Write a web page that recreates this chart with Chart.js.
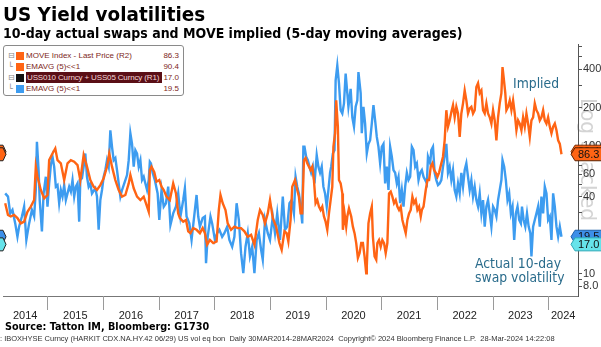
<!DOCTYPE html>
<html>
<head>
<meta charset="utf-8">
<script src="https://cdn.jsdelivr.net/npm/chart.js@4.4.1/dist/chart.umd.min.js"></script>
<style>
  body { margin: 0; width: 601px; height: 347px; overflow: hidden; background: #fff; position: relative; font-family: 'DejaVu Sans', sans-serif; }
  #c { position: absolute; left: 0; top: 0; }
  .sq { position: absolute; white-space: nowrap; transform-origin: left top; }
  #title { left: 3px; top: 4px; font: bold 20px/20px 'DejaVu Sans'; transform: scaleX(0.92); color: #000; }
  #subtitle { left: 3px; top: 25.5px; font: bold 13.7px/14px 'DejaVu Sans'; transform: scaleX(0.92); color: #000; }
  #legend { position: absolute; left: 3px; top: 45px; width: 179px; height: 49px; border: 1px solid #8a8a8a; border-radius: 3px; background: #fff; font: 8px/11px 'Liberation Sans', sans-serif; color: #7d1f22; z-index: 2; }
  #legend .row { position: absolute; left: 0; width: 179px; height: 11px; white-space: nowrap; }
  #legend .tree { position: absolute; left: 4px; top: 0; color: #888; font: 8px/11px 'DejaVu Sans'; }
  #legend .sw { position: absolute; left: 12px; top: 1.5px; width: 8px; height: 8px; }
  #legend .lab { position: absolute; left: 22px; top: 0; white-space: nowrap; }
  #legend .hl { background: #5a0f16; color: #f4d6d6; width: 135px; padding-left: 1px; letter-spacing: -0.15px; overflow: hidden; }
  #legend .val { position: absolute; right: 4px; top: 0; }
  .note { color: #2a6c8c; font: 13.5px/14px 'DejaVu Sans'; transform: scaleX(0.92); z-index: 2; }
  #source { left: 5px; top: 320px; font: bold 10.5px/12px 'DejaVu Sans'; transform: scaleX(0.92); color: #000; }
  #footer { left: 0px; top: 334px; font: 7.5px/9px 'Liberation Sans', sans-serif; color: #333; }
</style>
</head>
<body>
<canvas id="c" width="601" height="330"></canvas>
<div id="title" class="sq">US Yield volatilities</div>
<div id="subtitle" class="sq">10-day actual swaps and MOVE implied (5-day moving averages)</div>
<div id="legend">
  <div class="row" style="top:4px"><span class="tree">⊟</span><span class="sw" style="background:#ff6414"></span><span class="lab">MOVE Index - Last Price (R2)</span><span class="val">86.3</span></div>
  <div class="row" style="top:15px"><span class="tree">└</span><span class="sw" style="background:#ff6414"></span><span class="lab">EMAVG (5)&lt;&lt;1</span><span class="val">90.4</span></div>
  <div class="row" style="top:26px"><span class="tree">⊟</span><span class="sw" style="background:#111"></span><span class="lab hl">USS010 Curncy + USS05 Curncy (R1)</span><span class="val">17.0</span></div>
  <div class="row" style="top:37px"><span class="tree">└</span><span class="sw" style="background:#3d9cf0"></span><span class="lab">EMAVG (5)&lt;&lt;1</span><span class="val">19.5</span></div>
</div>
<div class="sq note" style="left:513px; top:75.5px">Implied</div>
<div class="sq note" style="left:475px; top:255.5px">Actual 10-day<br>swap volatility</div>
<div id="source" class="sq">Source: Tatton IM, Bloomberg: G1730</div>
<div id="footer" class="sq">: IBOXHYSE Curncy (HARKIT CDX.NA.HY.42 06/29) US vol eq bon&nbsp; Daily 30MAR2014-28MAR2024&nbsp; Copyright© 2024 Bloomberg Finance L.P.&nbsp; 28-Mar-2024 14:22:08</div>
<script>
// MOVE implied (orange), dates as decimal years
const moveDates = [2014.24,2014.29,2014.34,2014.40,2014.46,2014.52,2014.58,2014.64,2014.70,2014.76,2014.79,2014.82,2014.88,2014.94,
  2015.00,2015.03,2015.09,2015.14,2015.18,2015.24,2015.30,2015.36,2015.42,2015.48,2015.54,2015.59,2015.65,2015.71,2015.77,2015.83,2015.89,2015.95,
  2016.01,2016.07,2016.11,2016.16,2016.22,2016.28,2016.34,2016.40,2016.46,2016.49,2016.55,2016.61,2016.67,2016.73,2016.79,2016.82,2016.84,2016.87,2016.92,2016.96,
  2017.01,2017.05,2017.09,2017.14,2017.20,2017.26,2017.31,2017.35,2017.38,2017.44,2017.49,2017.53,2017.57,2017.62,2017.68,2017.74,2017.79,2017.83,2017.87,2017.92,2017.98,
  2018.04,2018.08,2018.11,2018.15,2018.20,2018.24,2018.30,2018.36,2018.42,2018.48,2018.54,2018.60,2018.66,2018.72,2018.78,2018.82,2018.87,2018.91,2018.96,
  2019.00,2019.05,2019.11,2019.17,2019.21,2019.26,2019.30,2019.33,2019.37,2019.40,2019.45,2019.49,2019.52,2019.55,2019.58,2019.61,2019.64,2019.67,2019.70,2019.73,2019.76,2019.79,2019.82,2019.85,2019.88,2019.91,2019.94,2019.97,
  2020.00,2020.03,2020.06,2020.09,2020.12,2020.14,2020.17,2020.19,2020.22,2020.24,2020.27,2020.30,2020.31,2020.34,2020.37,2020.39,2020.42,2020.46,2020.49,2020.52,2020.55,2020.58,2020.61,2020.64,2020.67,2020.70,2020.73,2020.74,2020.77,2020.80,2020.83,2020.85,2020.88,2020.91,2020.93,2020.96,2020.99,
  2021.02,2021.05,2021.08,2021.11,2021.14,2021.17,2021.20,2021.23,2021.26,2021.29,2021.32,2021.35,2021.38,2021.41,2021.44,2021.47,2021.50,2021.53,2021.56,2021.59,2021.62,2021.65,2021.68,2021.71,2021.73,2021.76,2021.80,2021.83,2021.86,2021.89,2021.92,2021.95,2021.98,
  2022.01,2022.04,2022.08,2022.11,2022.14,2022.17,2022.20,2022.23,2022.26,2022.29,2022.32,2022.35,2022.38,2022.41,2022.44,2022.47,2022.50,2022.53,2022.56,2022.59,2022.62,2022.65,2022.68,2022.71,2022.74,2022.77,2022.80,2022.83,2022.86,2022.89,2022.92,2022.95,2022.98,
  2023.01,2023.04,2023.07,2023.10,2023.13,2023.16,2023.18,2023.20,2023.23,2023.25,2023.28,2023.31,2023.34,2023.37,2023.40,2023.43,2023.46,2023.49,2023.52,2023.55,2023.58,2023.61,2023.64,2023.67,2023.70,2023.73,2023.76,2023.79,2023.82,2023.85,2023.88,2023.91,2023.94,2023.97,
  2024.00,2024.03,2024.06,2024.09,2024.12,2024.15,2024.18,2024.21,2024.24];
const moveValues = [35.7,28.9,28.1,28.9,27.3,24.8,25.6,30.6,33.6,37.8,69.0,57.5,45.3,39.0,
  41.4,77.6,87.5,95.8,77.6,73.2,54.2,73.2,77.6,75.4,71.0,54.2,84.9,69.0,54.2,48.1,45.3,49.5,
  56.0,69.0,87.5,69.0,54.2,45.3,40.2,41.4,51.0,59.3,46.7,40.2,37.8,40.2,33.6,30.6,64.9,69.0,62.5,52.6,
  54.2,48.1,45.3,40.2,37.8,51.0,42.6,29.7,27.3,25.6,26.4,21.5,20.8,22.8,22.1,20.8,22.8,20.8,16.9,18.4,17.4,
  17.9,31.6,41.4,35.7,31.6,24.8,22.1,23.4,22.8,22.8,21.5,19.5,20.2,16.9,26.4,31.6,28.9,24.8,29.7,
  37.8,27.3,23.4,17.4,15.4,21.5,20.8,17.9,26.4,48.1,54.2,45.3,40.2,29.7,29.7,77.6,80.6,73.2,69.0,64.9,69.0,54.2,35.7,37.8,33.6,31.6,33.6,28.1,
  25.6,22.1,29.7,37.8,48.1,98.7,126,228,142,54.2,51.0,42.6,22.1,29.7,23.4,28.1,32.5,28.1,23.4,20.8,17.4,13.3,14.5,17.4,17.4,13.7,10.1,11.4,24.8,29.7,33.6,19.5,13.7,12.9,17.4,18.4,16.3,
  18.4,17.4,14.5,17.4,42.6,44.0,40.2,35.7,37.8,33.6,31.6,33.6,26.4,23.4,20.8,26.4,29.7,31.6,40.2,35.7,37.8,31.6,33.6,28.1,31.6,33.6,45.3,54.2,54.2,69.0,73.2,64.9,61.8,
  57.5,62.0,73.2,82.6,111,191,142,159,185,209,168,203,180,118,180,216,273,228,180,197,203,180,191,290,311,260,273,191,180,216,180,168,150,
  191,159,111,168,216,260,416,346,260,191,203,228,191,228,180,133,159,150,133,168,142,180,150,118,159,168,216,191,180,159,168,191,159,150,
  168,142,126,142,150,133,111,104,86.3];

// USS010 + USS05 actual 10-day swap volatility (blue)
const swapDates = [2014.24,2014.29,2014.33,2014.37,2014.42,2014.46,2014.49,2014.54,2014.58,2014.62,2014.67,2014.72,2014.76,2014.79,2014.81,2014.84,2014.86,2014.90,2014.93,2014.97,
  2015.00,2015.03,2015.06,2015.09,2015.12,2015.15,2015.18,2015.21,2015.24,2015.27,2015.30,2015.33,2015.36,2015.39,2015.42,2015.45,2015.48,2015.51,2015.54,2015.57,2015.59,2015.62,2015.65,2015.68,2015.71,2015.74,2015.77,2015.80,2015.86,2015.89,2015.92,2015.95,2015.98,
  2016.01,2016.04,2016.07,2016.10,2016.13,2016.16,2016.19,2016.22,2016.25,2016.28,2016.31,2016.34,2016.37,2016.40,2016.43,2016.46,2016.49,2016.52,2016.55,2016.58,2016.61,2016.64,2016.67,2016.70,2016.73,2016.76,2016.79,2016.82,2016.84,2016.86,2016.89,2016.93,2016.98,
  2017.01,2017.05,2017.09,2017.13,2017.17,2017.21,2017.26,2017.31,2017.35,2017.39,2017.44,2017.47,2017.50,2017.55,2017.59,2017.63,2017.68,2017.71,2017.74,2017.79,2017.83,2017.85,2017.88,2017.93,2017.96,
  2018.01,2018.05,2018.09,2018.14,2018.18,2018.23,2018.27,2018.32,2018.36,2018.40,2018.44,2018.48,2018.52,2018.56,2018.60,2018.64,2018.68,2018.72,2018.76,2018.80,2018.84,2018.87,2018.91,2018.96,
  2019.00,2019.05,2019.09,2019.13,2019.18,2019.23,2019.27,2019.31,2019.35,2019.39,2019.43,2019.46,2019.49,2019.52,2019.55,2019.58,2019.60,2019.62,2019.65,2019.68,2019.71,2019.74,2019.77,2019.80,2019.84,2019.87,2019.90,2019.93,2019.96,2019.99,
  2020.02,2020.05,2020.08,2020.10,2020.13,2020.16,2020.18,2020.21,2020.24,2020.27,2020.30,2020.33,2020.36,2020.39,2020.41,2020.45,2020.48,2020.51,2020.54,2020.57,2020.59,2020.63,2020.65,2020.68,2020.71,2020.74,2020.77,2020.80,2020.83,2020.86,2020.89,2020.92,2020.95,2020.98,
  2021.01,2021.04,2021.07,2021.10,2021.13,2021.16,2021.19,2021.22,2021.25,2021.28,2021.31,2021.34,2021.37,2021.40,2021.43,2021.46,2021.49,2021.52,2021.55,2021.58,2021.61,2021.64,2021.67,2021.70,2021.73,2021.76,2021.79,2021.82,2021.84,2021.88,2021.90,2021.93,2021.96,2021.99,
  2022.02,2022.05,2022.08,2022.11,2022.14,2022.17,2022.20,2022.23,2022.26,2022.29,2022.32,2022.35,2022.38,2022.41,2022.44,2022.47,2022.50,2022.53,2022.56,2022.59,2022.62,2022.65,2022.68,2022.71,2022.74,2022.77,2022.80,2022.83,2022.86,2022.89,2022.92,2022.95,2022.98,
  2023.01,2023.04,2023.07,2023.10,2023.13,2023.16,2023.18,2023.21,2023.24,2023.27,2023.30,2023.33,2023.36,2023.39,2023.42,2023.45,2023.48,2023.51,2023.53,2023.56,2023.59,2023.62,2023.65,2023.68,2023.70,2023.73,2023.76,2023.79,2023.82,2023.85,2023.88,2023.91,2023.94,2023.97,
  2024.00,2024.03,2024.06,2024.09,2024.12,2024.15,2024.18,2024.21,2024.24];
const swapValues = [42.6,40.2,29.7,31.6,24.8,19.5,23.4,28.1,33.6,18.4,24.8,31.6,28.1,45.3,108,64.9,37.8,21.5,42.6,57.5,
  33.6,51.0,71.0,82.6,69.0,48.1,49.5,35.7,45.3,40.2,49.5,37.8,42.6,48.1,44.0,54.2,40.2,48.1,51.0,25.6,54.2,56.0,69.0,87.5,57.5,48.1,51.0,42.6,46.7,40.2,22.1,37.8,45.3,
  57.5,64.9,77.6,69.0,133,98.7,77.6,80.6,64.9,51.0,40.2,45.3,49.5,54.2,59.3,77.6,126,104,69.0,92.9,87.5,69.0,77.6,54.2,57.5,51.0,45.3,54.2,75.4,73.2,61.8,54.2,42.6,
  26.4,45.3,33.6,35.7,48.1,24.1,29.7,33.6,42.6,28.1,37.8,46.7,28.1,24.8,18.4,26.4,41.4,28.1,23.4,27.3,28.1,12.1,19.5,28.1,24.8,
  18.4,20.8,22.1,19.5,20.8,23.4,18.4,16.3,19.5,35.7,26.4,14.5,10.1,16.3,20.8,13.7,16.3,10.1,18.4,20.8,15.4,12.9,26.4,20.8,
  18.4,28.1,20.8,29.7,18.4,40.2,22.1,23.4,35.7,37.8,29.7,57.5,48.1,42.6,33.6,24.8,98.7,98.7,82.6,77.6,69.0,61.8,69.0,51.0,84.9,69.0,61.8,69.0,48.1,42.6,
  33.6,45.3,61.8,69.0,87.5,92.9,327,428,311,191,180,216,369,260,203,281,168,142,203,228,380,260,126,203,150,87.5,104,111,150,209,159,118,98.7,73.2,
  98.7,104,51.0,69.0,45.3,98.7,82.6,64.9,61.8,51.0,57.5,35.7,45.3,33.6,48.1,61.8,54.2,57.5,98.7,92.9,69.0,73.2,54.2,61.8,64.9,57.5,54.2,51.0,82.6,73.2,92.9,98.7,61.8,54.2,
  49.5,51.0,54.2,69.0,82.6,104,61.8,69.0,54.2,64.9,45.3,40.2,51.0,42.6,61.8,48.1,64.9,73.2,57.5,45.3,54.2,40.2,48.1,37.8,33.6,42.6,29.7,37.8,23.4,33.6,37.8,29.7,23.4,
  33.6,31.6,28.1,37.8,45.3,54.2,77.6,69.0,54.2,37.8,42.6,29.7,33.6,18.4,29.7,33.6,26.4,24.8,33.6,26.4,23.4,29.7,23.4,20.8,13.7,23.4,26.4,29.7,33.6,23.4,40.2,29.7,48.1,42.6,
  26.4,28.1,18.4,42.6,33.6,23.4,19.5,23.4,19.5];

const yearLabels = ['2014','2015','2016','2017','2018','2019','2020','2021','2022','2023','2024'];
const yearCenters = [2014.6,2015.5,2016.5,2017.5,2018.5,2019.5,2020.5,2021.5,2022.5,2023.5,2024.27];
const yearBreaks = [2015,2016,2017,2018,2019,2020,2021,2022,2023,2024];
const yTickValues = [8,9,10,20,30,40,50,60,70,80,90,100,200,300,400,500,600];
const yTickText = { 8: '8.0', 10: '10', 40: '40', 60: '60', 100: '100', 200: '200', 400: '400' };

// last values shown as tags on the axis
const lastTags = [
  { value: 90.4, text: '90.4', fill: '#ff6414', stroke: '#7a2a00' },
  { value: 86.3, text: '86.3', fill: '#ff6414', stroke: '#5a2000' },
  { value: 19.5, text: '19.5', fill: '#3d8fe8', stroke: '#1d5fa8' },
  { value: 17.0, text: '17.0', fill: '#66e3ea', stroke: '#2aa8b8' }
];

const narrow = "'Liberation Sans Narrow', 'Liberation Sans', sans-serif";

const decor = {
  id: 'decor',
  beforeDraw(chart) {
    const ctx = chart.ctx;
    ctx.save();
    ctx.translate(581, 98);
    ctx.rotate(Math.PI / 2);
    ctx.scale(0.92, 1);
    ctx.font = "22px 'DejaVu Sans'";
    ctx.fillStyle = '#d4d4d4';
    ctx.textBaseline = 'alphabetic';
    ctx.fillText('Log Stacked', 0, 0);
    ctx.restore();
  },
  afterDraw(chart) {
    const ctx = chart.ctx;
    const xs = chart.scales.x, ys = chart.scales.y;
    const area = chart.chartArea;
    ctx.save();
    ctx.strokeStyle = '#9a9a9a';
    ctx.lineWidth = 1;
    yearBreaks.forEach(v => {
      const px = Math.round(xs.getPixelForValue(v)) + 0.5;
      ctx.beginPath();
      ctx.moveTo(px, area.bottom);
      ctx.lineTo(px, area.bottom + 14);
      ctx.stroke();
    });
    ctx.font = '11px ' + narrow;
    ctx.textBaseline = 'middle';
    lastTags.forEach(t => {
      const yc = ys.getPixelForValue(t.value);
      // right tag
      ctx.beginPath();
      ctx.moveTo(571, yc);
      ctx.lineTo(575, yc - 6.5);
      ctx.lineTo(603, yc - 6.5);
      ctx.lineTo(603, yc + 6.5);
      ctx.lineTo(575, yc + 6.5);
      ctx.closePath();
      ctx.fillStyle = t.fill;
      ctx.fill();
      ctx.strokeStyle = t.stroke;
      ctx.stroke();
      ctx.fillStyle = '#111';
      ctx.textAlign = 'left';
      ctx.fillText(t.text, 578, yc + 0.5);
      // left tag, mostly off the page
      ctx.beginPath();
      ctx.moveTo(-30, yc - 6.5);
      ctx.lineTo(3, yc - 6.5);
      ctx.lineTo(6, yc);
      ctx.lineTo(3, yc + 6.5);
      ctx.lineTo(-30, yc + 6.5);
      ctx.closePath();
      ctx.fillStyle = t.fill;
      ctx.fill();
      ctx.strokeStyle = '#222';
      ctx.stroke();
    });
    ctx.restore();
  }
};

new Chart(document.getElementById('c'), {
  type: 'line',
  data: {
    datasets: [
      {
        label: 'MOVE Index EMAVG (5)',
        data: moveDates.map((d, i) => ({ x: d, y: moveValues[i] })),
        borderColor: '#ff6414',
        borderWidth: 2.4,
        pointRadius: 0,
        tension: 0,
        order: 0
      },
      {
        label: 'USS010 + USS05 EMAVG (5)',
        data: swapDates.map((d, i) => ({ x: d, y: swapValues[i] })),
        borderColor: '#3d9cf0',
        borderWidth: 2.4,
        pointRadius: 0,
        tension: 0,
        order: 1
      }
    ]
  },
  options: {
    responsive: false,
    devicePixelRatio: 1,
    animation: false,
    layout: { padding: { top: 44, left: 0, right: 0, bottom: 0 } },
    plugins: { legend: { display: false }, tooltip: { enabled: false } },
    scales: {
      x: {
        type: 'linear',
        min: 2014.206,
        max: 2024.537,
        afterBuildTicks: (axis) => { axis.ticks = yearCenters.map(v => ({ value: v })); },
        afterFit: (axis) => { axis.height = 34; },
        ticks: {
          autoSkip: false,
          maxRotation: 0,
          padding: 13,
          color: '#222',
          font: { family: narrow, size: 11 },
          callback: (v, i) => yearLabels[i]
        },
        grid: { display: false, drawTicks: false },
        border: { display: true, color: '#777', width: 1 }
      },
      y: {
        type: 'logarithmic',
        position: 'right',
        min: 6.7,
        max: 630,
        afterBuildTicks: (axis) => { axis.ticks = yTickValues.map(v => ({ value: v })); },
        afterFit: (axis) => { axis.width = 23; },
        ticks: {
          autoSkip: false,
          padding: 1,
          color: '#333',
          font: { family: narrow, size: 11 },
          callback: (v) => yTickText[v] || ''
        },
        grid: { drawOnChartArea: false, drawTicks: true, tickLength: 4, color: '#555' },
        border: { display: true, color: '#555', width: 1 }
      }
    }
  },
  plugins: [decor]
});
</script>
</body>
</html>
